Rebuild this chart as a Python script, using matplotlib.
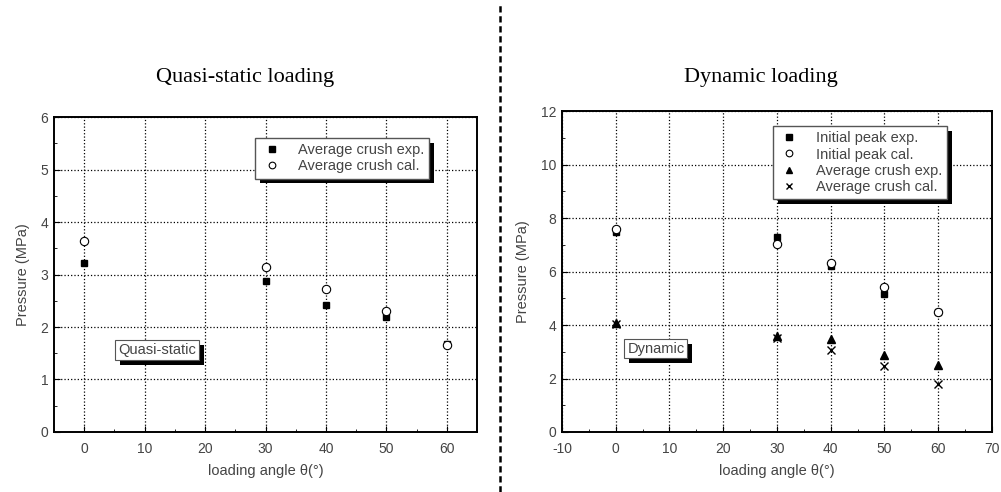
import matplotlib
matplotlib.use("Agg")
import matplotlib.pyplot as plt
import matplotlib.patheffects as pe
from matplotlib.lines import Line2D

# quasi-static data
qs_angle = [0, 30, 40, 50, 60]
qs_crush_exp = [3.22, 2.87, 2.41, 2.19, 1.68]
qs_crush_cal = [3.63, 3.15, 2.73, 2.31, 1.65]

# dynamic data
dy_angle = [0, 30, 40, 50, 60]
dy_peak_exp = [7.49, 7.30, 6.22, 5.16, 4.48]
dy_peak_cal = [7.61, 7.05, 6.31, 5.41, 4.48]
dy_crush_exp = [4.07, 3.59, 3.47, 2.89, 2.50]
dy_crush_cal = [4.05, 3.50, 3.05, 2.47, 1.79]

plt.rcParams['font.family'] = ['Liberation Sans', 'DejaVu Sans']
plt.rcParams['axes.unicode_minus'] = False
gray = '#444444'
shadow = [pe.SimplePatchShadow(offset=(3.5, -3.5), shadow_rgbFace='black', alpha=1), pe.Normal()]

fig = plt.figure(figsize=(10.01, 4.92), dpi=100)
ax1 = fig.add_axes([0.054, 0.122, 0.4226, 0.640])
ax2 = fig.add_axes([0.5614, 0.122, 0.4296, 0.652])


def style(ax, xlim, ylim, xticks, ystep, yminor):
    ax.set_xlim(*xlim)
    ax.set_ylim(*ylim)
    ax.set_xticks(xticks)
    ax.set_yticks([ylim[0] + i * ystep for i in range(int((ylim[1] - ylim[0]) / ystep) + 1)])
    ax.xaxis.set_minor_locator(matplotlib.ticker.MultipleLocator(5))
    ax.yaxis.set_minor_locator(matplotlib.ticker.MultipleLocator(yminor))
    ax.tick_params(which='both', direction='in', colors='black', labelcolor=gray, labelsize=10)
    ax.tick_params(which='major', length=4)
    ax.tick_params(which='minor', length=2)
    ax.tick_params(axis='x', pad=7)
    ax.tick_params(axis='y', pad=4)
    ax.grid(True, which='major', linestyle=':', color='black', linewidth=0.9)
    for s in ax.spines.values():
        s.set_linewidth(1.4)
    ax.set_xlabel('loading angle θ(°)', color=gray, fontsize=10.5, labelpad=6)
    ax.set_ylabel('Pressure (MPa)', color=gray, fontsize=10.5, labelpad=8)


style(ax1, (-5, 65), (0, 6), [0, 10, 20, 30, 40, 50, 60], 1, 0.5)
style(ax2, (-10, 70), (0, 12), [-10, 0, 10, 20, 30, 40, 50, 60, 70], 2, 1)

legend_kw = dict(loc='upper left', borderaxespad=0, fontsize=10.5, fancybox=False,
                 edgecolor='#555555', framealpha=1, handletextpad=1.0, handlelength=1.6,
                 borderpad=0.35, labelspacing=0.15, markerscale=0.8)

ax1.plot(qs_angle, qs_crush_exp, 's', color='black', ms=5, label='Average crush exp.')
ax1.plot(qs_angle, qs_crush_cal, 'o', mfc='white', mec='black', ms=6, mew=0.8, label='Average crush cal.')
leg1 = ax1.legend(bbox_to_anchor=(0.475, 0.933), **legend_kw)
leg1.get_frame().set_path_effects(shadow)
for t in leg1.get_texts():
    t.set_color(gray)

ax2.plot(dy_angle, dy_peak_exp, 's', color='black', ms=5, label='Initial peak exp.')
ax2.plot(dy_angle, dy_peak_cal, 'o', mfc='white', mec='black', ms=6, mew=0.8, label='Initial peak cal.')
ax2.plot(dy_angle, dy_crush_exp, '^', color='black', ms=6, label='Average crush exp.')
ax2.plot(dy_angle, dy_crush_cal, 'x', color='black', ms=6, mew=1, label='Average crush cal.')
leg2 = ax2.legend(bbox_to_anchor=(0.49, 0.953), **legend_kw)
leg2.get_frame().set_path_effects(shadow)
for t in leg2.get_texts():
    t.set_color(gray)

for ax, label in [(ax1, 'Quasi-static'), (ax2, 'Dynamic')]:
    t = ax.text(0.152, 0.26, label, transform=ax.transAxes, va='center', ha='left',
                fontsize=10.5, color=gray,
                bbox=dict(boxstyle='square,pad=0.2', fc='white', ec='#555555', lw=0.8))
    t.get_bbox_patch().set_path_effects(shadow)

fig.text(0.245, 0.842, 'Quasi-static loading', ha='center', va='center',
         family='Liberation Serif', fontsize=16)
fig.text(0.76, 0.842, 'Dynamic loading', ha='center', va='center',
         family='Liberation Serif', fontsize=16)

fig.add_artist(Line2D([0.4995, 0.4995], [0.0, 0.99], transform=fig.transFigure,
                      color='black', lw=1.8, linestyle=(0, (2.5, 1.5))))

fig.savefig('out.png', dpi=100)
